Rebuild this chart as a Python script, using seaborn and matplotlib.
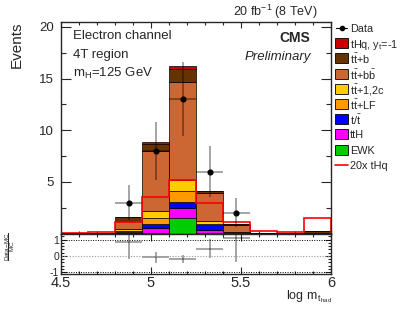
import numpy as np
import pandas as pd
import matplotlib
matplotlib.use("Agg")
import matplotlib.pyplot as plt
from matplotlib.patches import Rectangle
from matplotlib.ticker import MultipleLocator
import seaborn as sns

# ---- binning (log m_t_had) ----
edges = [4.5, 4.65, 4.8, 4.95, 5.1, 5.25, 5.4, 5.55, 5.7, 5.85, 6.0]
centers = 0.5 * (np.array(edges[:-1]) + np.array(edges[1:]))

# ---- stacked backgrounds, legend order (top of stack first) ----
samples = ["thq", "ttb", "ttbb", "ttc", "ttlf", "t", "tth", "ewk"]
labels = [r"tHq, y$_{\mathrm{t}}$=-1", r"t$\bar{\mathrm{t}}$+b", r"t$\bar{\mathrm{t}}$+b$\bar{\mathrm{b}}$",
          r"t$\bar{\mathrm{t}}$+1,2c", r"t$\bar{\mathrm{t}}$+LF", r"t/$\bar{\mathrm{t}}$", "ttH", "EWK"]
colors = ["#cc0000", "#663300", "#cc6633", "#ffcc00", "#ff9900", "#0000ff", "#ff00ff", "#00cc00"]

thq = [0.0, 0.0, 0.02, 0.2, 0.23, 0.04, 0.02, 0.0, 0.0, 0.0]
ttb = [0.03, 0.03, 0.4, 0.67, 1.27, 0.22, 0.12, 0.05, 0.05, 0.2]
ttbb = [0.02, 0.02, 0.8, 5.82, 9.45, 2.72, 0.65, 0.03, 0.03, 0.07]
ttc = [0.0, 0.0, 0.12, 0.71, 1.1, 0.25, 0.04, 0.0, 0.0, 0.0]
ttlf = [0.0, 0.0, 0.1, 0.55, 1.07, 0.15, 0.04, 0.0, 0.0, 0.0]
tsingle = [0.0, 0.0, 0.1, 0.42, 0.55, 0.45, 0.06, 0.0, 0.0, 0.0]
tth = [0.0, 0.0, 0.08, 0.42, 1.0, 0.28, 0.02, 0.0, 0.0, 0.0]
ewk = [0.0, 0.0, 0.0, 0.08, 1.5, 0.05, 0.0, 0.0, 0.0, 0.0]

thq20 = [0.03, 0.18, 1.1, 3.5, 5.2, 3.0, 1.15, 0.27, 0.12, 1.5]
data = [0, 0, 3, 8, 13, 6, 2, 0, 0, 0]

yields = [thq, ttb, ttbb, ttc, ttlf, tsingle, tth, ewk]

rows = []
for s, vals in zip(samples, yields):
    for c, v in zip(centers, vals):
        rows.append({"x": c, "w": v, "sample": s})
df = pd.DataFrame(rows)

sns.set_style("ticks")
plt.rcParams["font.family"] = ["Liberation Sans", "DejaVu Sans"]
plt.rcParams["mathtext.fontset"] = "custom"
plt.rcParams["mathtext.rm"] = "Liberation Sans"
plt.rcParams["mathtext.it"] = "Liberation Sans:italic"
plt.rcParams["mathtext.bf"] = "Liberation Sans:bold"
plt.rcParams["axes.unicode_minus"] = False

fig = plt.figure(figsize=(4.03, 3.12), dpi=100)
L, R = 61 / 403, 331 / 403
ax = fig.add_axes([L, 1 - 233.5 / 312, R - L, (233.5 - 21.7) / 312])
rax = fig.add_axes([L, 1 - 274 / 312, R - L, (274 - 233.5) / 312])

# ---- upper panel ----
sns.histplot(data=df, x="x", weights="w", hue="sample", hue_order=samples,
             palette=dict(zip(samples, colors)), bins=edges, multiple="stack",
             element="bars", edgecolor="black", linewidth=0.5, alpha=1,
             shrink=1, legend=False, ax=ax)
ax.stairs(thq20, edges, color="red", linewidth=1.2)

data = np.array(data, dtype=float)
half = np.diff(edges) / 2
ecol = (0, 0, 0, 0.45)
ax.errorbar(centers, data, xerr=half, yerr=np.sqrt(data), fmt="none",
            ecolor=ecol, elinewidth=1.1, capsize=0)
mask = data > 0
ax.plot(centers[mask], data[mask], "o", color="black", ms=3.4, zorder=5)

ax.set_xlim(4.5, 6.0)
ax.set_ylim(0, 20.5)
ax.set_xlabel("")
ax.set_ylabel("")
ax.set_yticks([0, 5, 10, 15, 20])
ax.set_yticklabels(["", "5", "10", "15", "20"])
ax.yaxis.set_minor_locator(MultipleLocator(2.5))
ax.xaxis.set_major_locator(MultipleLocator(0.5))
ax.xaxis.set_minor_locator(MultipleLocator(0.1))
ax.tick_params(axis="both", which="both", direction="in", top=True, right=True,
               labelbottom=False, labelsize=9.5, width=0.8)
ax.tick_params(axis="y", which="major", length=7, pad=5)
ax.tick_params(axis="y", which="minor", length=3.5)
ax.tick_params(axis="x", which="major", length=4)
ax.tick_params(axis="x", which="minor", length=2)
for sp in ax.spines.values():
    sp.set_linewidth(1.0)

ax.text(0.044, 0.918, "Electron channel", transform=ax.transAxes, fontsize=9.5, va="baseline")
ax.text(0.044, 0.827, "4T region", transform=ax.transAxes, fontsize=9.5, va="baseline")
ax.text(0.044, 0.740, r"m$_{\mathrm{H}}$=125 GeV", transform=ax.transAxes, fontsize=9.5, va="baseline")
ax.text(0.922, 0.906, "CMS", transform=ax.transAxes, fontsize=10, fontweight="bold",
        ha="right", va="baseline")
ax.text(0.925, 0.819, "Preliminary", transform=ax.transAxes, fontsize=9.5, style="italic",
        ha="right", va="baseline")

# ---- ratio panel ----
mc = np.sum(np.array(yields), axis=0)
ratio = data[mask] / mc[mask] - 1
rerr = np.sqrt(data[mask]) / mc[mask]
rax.errorbar(centers[mask], ratio, xerr=half[mask], yerr=rerr, fmt="none",
             ecolor=ecol, elinewidth=1.1, capsize=0)
rax.axhline(1, color="black", ls=(0, (1, 1.5)), lw=0.7)
rax.axhline(0, color="#999999", ls=(0, (1, 1.5)), lw=0.8)
rax.axhline(-1, color="black", ls=(0, (1, 1.5)), lw=0.7)
rax.set_xlim(4.5, 6.0)
rax.set_ylim(-1.12, 1.38)
rax.set_yticks([-1, 0, 1])
rax.yaxis.set_minor_locator(MultipleLocator(0.2))
rax.set_xticks([4.5, 5.0, 5.5, 6.0])
rax.set_xticklabels(["4.5", "5", "5.5", "6"])
rax.xaxis.set_minor_locator(MultipleLocator(0.1))
rax.tick_params(axis="both", which="both", direction="in", top=True, right=True, width=0.8)
rax.tick_params(axis="y", which="major", length=4, pad=1.5, labelsize=7.5)
rax.tick_params(axis="y", which="minor", length=2)
rax.tick_params(axis="x", which="major", length=5, pad=1.5, labelsize=10.5)
rax.tick_params(axis="x", which="minor", length=2.5)
for sp in rax.spines.values():
    sp.set_linewidth(1.0)

# ---- labels ----
fig.text(17 / 403, 1 - 22 / 312, "Events", rotation=90, ha="center", va="top", fontsize=11)
fig.text(10 / 403, 1 - 247 / 312, r"$\dfrac{\mathrm{Data\!-\!MC}}{\mathrm{MC}}$",
         rotation=90, ha="center", va="center", fontsize=4.5)
fig.text(332 / 403, 1 - 299.5 / 312, r"log m$_{\,\mathrm{t}_{\mathrm{had}}}$", ha="right",
         va="baseline", fontsize=9)
fig.text(318 / 403, 1 - 16 / 312, r"20 fb$^{-1}$ (8 TeV)", ha="right", va="baseline", fontsize=9)

# ---- legend, drawn by hand in pixel coordinates ----
lax = fig.add_axes([0, 0, 1, 1])
lax.set_xlim(0, 403)
lax.set_ylim(312, 0)
lax.axis("off")
leg_labels = ["Data"] + labels + ["20x tHq"]
row_y = 28 + 15.2 * np.arange(len(leg_labels))
for i, (lab, yy) in enumerate(zip(leg_labels, row_y)):
    if i == 0:
        lax.plot([336, 347], [yy, yy], color="black", lw=0.8)
        lax.plot([341.5], [yy], "o", color="black", ms=3)
    elif i == len(leg_labels) - 1:
        lax.plot([335, 348], [yy, yy], color="red", lw=1.2)
    else:
        lax.add_patch(Rectangle((335, yy - 5), 13, 10, facecolor=colors[i - 1],
                                edgecolor="black", linewidth=0.6))
    lax.text(350, yy, lab, fontsize=7.8, va="center_baseline", ha="left")

fig.savefig("out.png", dpi=100)
